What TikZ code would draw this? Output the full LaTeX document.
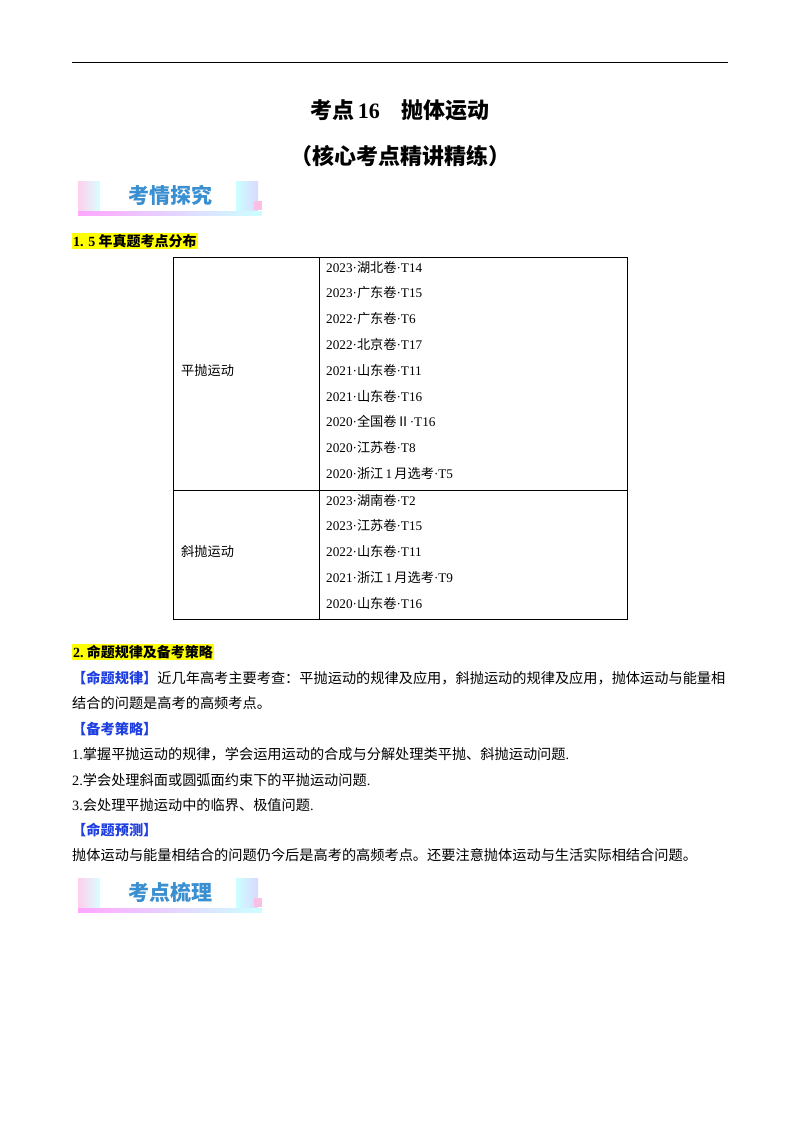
\documentclass[tikz,border=0pt]{standalone}
\usepackage{fontspec}
\setmainfont{Liberation Serif}
\newfontfamily\cjk{Noto Sans CJK SC}
\definecolor{badgeblue}{HTML}{3A8FD0}
\definecolor{hl}{HTML}{FFFF00}
\definecolor{tagblue}{HTML}{1F3FE0}
\tikzset{
 body/.style={anchor=west,inner sep=0pt,font=\fontsize{14.2}{15}\selectfont\cjk},
 cell/.style={anchor=west,inner sep=0pt,font=\fontsize{13.2}{14}\selectfont},
 head/.style={anchor=west,inner sep=1pt,fill=hl,font=\fontsize{14}{15}\selectfont\bfseries\cjk},
 title/.style={inner sep=0pt,font=\fontsize{22}{24}\selectfont\bfseries\cjk},
 badgetext/.style={inner sep=0pt,font=\fontsize{21}{22}\selectfont\bfseries\cjk,text=badgeblue}
}
\newcommand{\badge}[3]{%
 \shade[left color=pink!70!magenta!40,right color=cyan!15] (#1,#2+1) rectangle (#1+22,#2+30);
 \shade[left color=cyan!20,right color=blue!15] (#1+158,#2+1) rectangle (#1+180,#2+30);
 \fill[magenta!25] (#1+176,#2+21) rectangle (#1+184,#2+30);
 \shade[left color=magenta!35,right color=cyan!20] (#1,#2+31) rectangle (#1+184,#2+35);
 \node[badgetext] (#3) at (#1+92,#2+15) {#3};}
\begin{document}
\begin{tikzpicture}[x=1pt,y=-1pt]
\useasboundingbox (0,0) rectangle (800,1132);
\draw[line width=1pt] (72,63) -- (728,63);
\node[title] (t1) at (400,110) {考点\,\textrm{16}\quad 抛体运动};
\node[title] (t2) at (400,156) {（核心考点精讲精练）};
\badge{78}{180}{考情探究}
\node[head] (h1) at (72,241) {\textrm{1. 5} 年真题考点分布};
% table
\draw[line width=0.8pt] (173,257) rectangle (627,619);
\draw[line width=0.8pt] (319,257) -- (319,619);
\draw[line width=0.8pt] (173,490) -- (627,490);
\node[cell] (a) at (181,371) {\cjk 平抛运动};
\node[cell] (b) at (181,552) {\cjk 斜抛运动};
\foreach \t [count=\i] in {2023·{\cjk 湖北卷}·T14,2023·{\cjk 广东卷}·T15,2022·{\cjk 广东卷}·T6,2022·{\cjk 北京卷}·T17,2021·{\cjk 山东卷}·T11,2021·{\cjk 山东卷}·T16,2020·{\cjk 全国卷Ⅱ}·T16,2020·{\cjk 江苏卷}·T8,2020·{\cjk 浙江}\,1\,{\cjk 月选考}·T5}
 \node[cell] (r\i) at (326,267+25.8*\i-25.8) {\t};
\foreach \t [count=\i] in {2023·{\cjk 湖南卷}·T2,2023·{\cjk 江苏卷}·T15,2022·{\cjk 山东卷}·T11,2021·{\cjk 浙江}\,1\,{\cjk 月选考}·T9,2020·{\cjk 山东卷}·T16}
 \node[cell] (s\i) at (326,500+25.8*\i-25.8) {\t};
\node[head] (h2) at (72,652) {\textrm{2.}\ 命题规律及备考策略};
\node[body] (p1) at (72,678) {\textcolor{tagblue}{\bfseries 【命题规律】}近几年高考主要考查：平抛运动的规律及应用，斜抛运动的规律及应用，抛体运动与能量相};
\node[body] (p2) at (72,703) {结合的问题是高考的高频考点。};
\node[body] (p3) at (72,729) {\textcolor{tagblue}{\bfseries 【备考策略】}};
\node[body] (p4) at (72,754) {\textrm{1.}掌握平抛运动的规律，学会运用运动的合成与分解处理类平抛、斜抛运动问题\textrm{.}};
\node[body] (p5) at (72,780) {\textrm{2.}学会处理斜面或圆弧面约束下的平抛运动问题\textrm{.}};
\node[body] (p6) at (72,805) {\textrm{3.}会处理平抛运动中的临界、极值问题\textrm{.}};
\node[body] (p7) at (72,830) {\textcolor{tagblue}{\bfseries 【命题预测】}};
\node[body] (p8) at (72,855) {抛体运动与能量相结合的问题仍今后是高考的高频考点。还要注意抛体运动与生活实际相结合问题。};
\badge{78}{877}{考点梳理}
\end{tikzpicture}
\end{document}
